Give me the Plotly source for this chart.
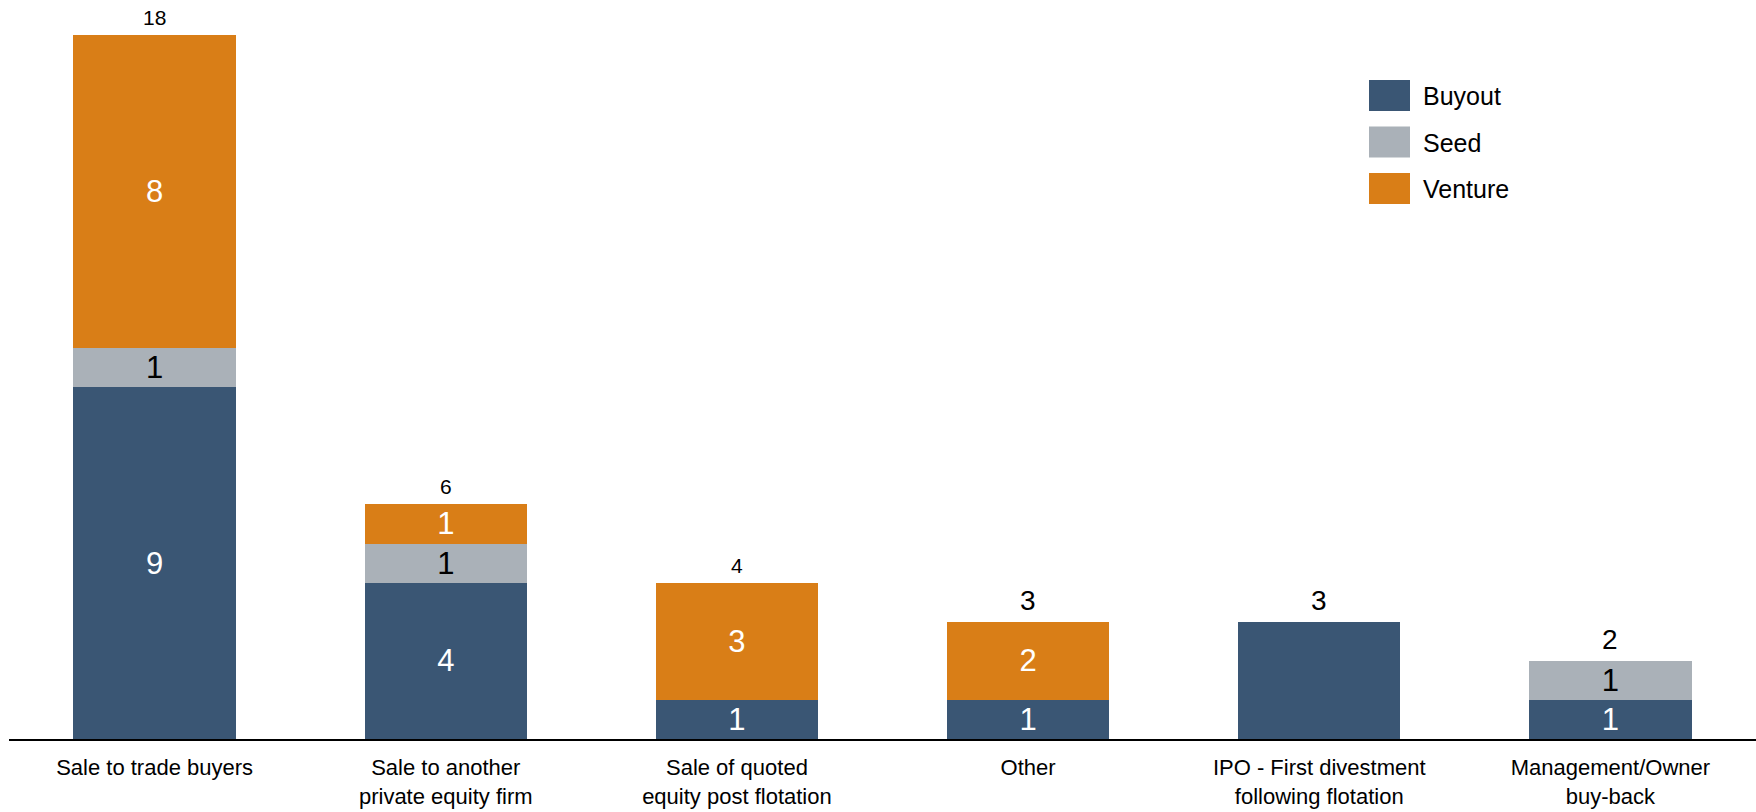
import plotly.graph_objects as go

# Divestments by exit route, split by stage
categories = [
    "Sale to trade buyers",
    "Sale to another<br>private equity firm",
    "Sale of quoted<br>equity post flotation",
    "Other",
    "IPO - First divestment<br>following flotation",
    "Management/Owner<br>buy-back",
]
buyout = [9, 4, 1, 1, 3, 1]
seed = [1, 1, 0, 0, 0, 1]
venture = [8, 1, 3, 2, 0, 0]
buyout_labelled = [True, True, True, True, False, True]

series = ["Buyout", "Seed", "Venture"]
colors = {"Buyout": "#3a5674", "Seed": "#aab1b8", "Venture": "#d97e17"}
text_colors = {"Buyout": "white", "Seed": "black", "Venture": "white"}

FONT = "Liberation Sans, Arial, sans-serif"
W, H = 1756, 812
ML, MR, MT, MB = 9, 0, 0, 73

totals = [b + s + v for b, s, v in zip(buyout, seed, venture)]
total_sizes = [21, 21, 21, 28, 28, 28]


def seg_text(vals, flags=None):
    out = []
    for i, v in enumerate(vals):
        show = v > 0 and (flags is None or flags[i])
        out.append(str(v) if show else "")
    return out


fig = go.Figure()
for name, vals, flags in [("Buyout", buyout, buyout_labelled),
                          ("Seed", seed, None),
                          ("Venture", venture, None)]:
    fig.add_trace(go.Bar(
        name=name, x=categories, y=vals,
        marker=dict(color=colors[name], line=dict(width=0)),
        text=seg_text(vals, flags), textposition="inside", textangle=0,
        insidetextanchor="middle", constraintext="none",
        textfont=dict(family=FONT, size=31, color=text_colors[name]),
        showlegend=False, hoverinfo="skip",
    ))

# Totals above each stack
for cat, tot, fs in zip(categories, totals, total_sizes):
    fig.add_annotation(
        x=cat, y=tot, text=str(tot), showarrow=False,
        yanchor="bottom", yshift=4,
        font=dict(family=FONT, size=fs, color="black"),
    )

# Legend with large swatches, placed in pixel units converted to paper coords
pw, ph = W - ML - MR, H - MT - MB


def px_x(x):
    return (x - ML) / pw


def px_y(y):
    return 1 - (y - MT) / ph


for i, name in enumerate(series):
    top = 80 + i * 46.5
    fig.add_shape(type="rect", xref="paper", yref="paper",
                  x0=px_x(1369), x1=px_x(1410), y0=px_y(top + 31), y1=px_y(top),
                  fillcolor=colors[name], line=dict(width=0))
    fig.add_annotation(xref="paper", yref="paper", x=px_x(1421), y=px_y(top + 16),
                       text=name, showarrow=False, xanchor="left", yanchor="middle",
                       font=dict(family=FONT, size=25, color="black"))

fig.update_layout(
    width=W, height=H, barmode="stack", bargap=0.443,
    margin=dict(l=ML, r=MR, t=MT, b=MB, pad=0),
    paper_bgcolor="white", plot_bgcolor="white",
    font=dict(family=FONT, color="black"),
    showlegend=False,
)
fig.update_xaxes(
    showline=True, linecolor="black", linewidth=2, ticks="",
    tickfont=dict(family=FONT, size=22, color="black"), ticklabelstandoff=8,
    showgrid=False, zeroline=False, fixedrange=True,
)
fig.update_yaxes(
    range=[0, 18.9], visible=False, showgrid=False, zeroline=False, fixedrange=True,
)

fig.write_html("out.html", config={"displayModeBar": False})
